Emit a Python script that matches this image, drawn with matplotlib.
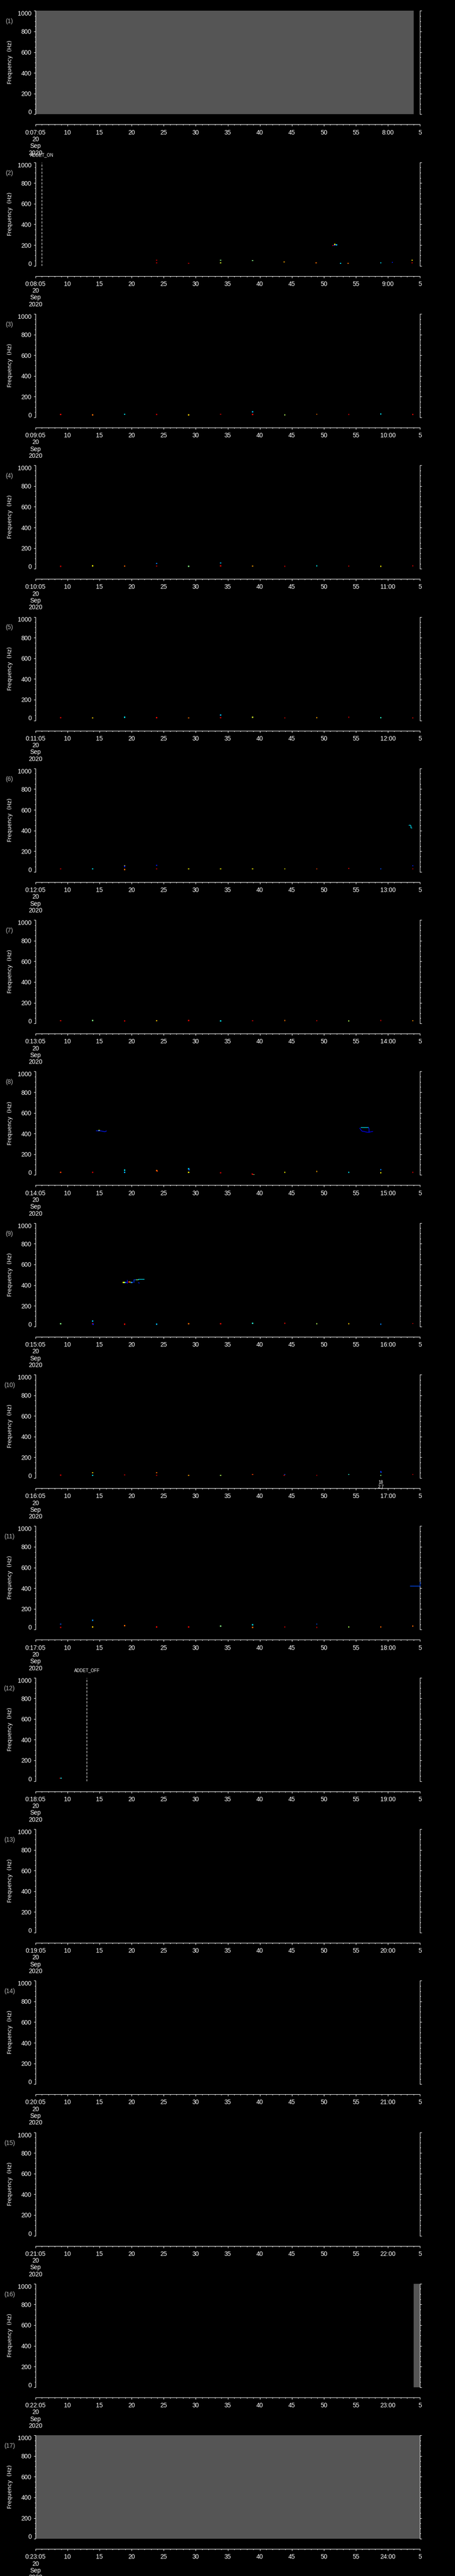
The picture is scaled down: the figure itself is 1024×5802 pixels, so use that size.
import matplotlib
matplotlib.use("Agg")
import matplotlib.pyplot as plt
from matplotlib.ticker import MultipleLocator, FixedLocator

plt.rcParams['font.family'] = ['Liberation Sans', 'DejaVu Sans']

W, H = 1024, 5802

# layout in pixels (from the top-left of the image)
PANEL_TOP0 = 24.3
PANEL_STEP = 341.3
PANEL_H = 233
X0, X1 = 80, 945
AXIS_GAP = 23

n_panels = 17
start_minutes = list(range(7, 7 + n_panels))   # 0:07:05 ... 0:23:05
date_lines = ["20", "Sep", "2020"]
freq_ticks = [0, 200, 400, 600, 800, 1000]
sec_ticks = list(range(0, 61, 5))

# grey = no data
nodata_panels = [1, 16, 17]
nodata_from = [0, 59, 0]
nodata_to = [59, 60, 60]

# instrument on/off markers
marker_panels = [2, 12]
marker_secs = [1.0, 8.0]
marker_names = ["ADDET_ON", "ADDET_OFF"]

# spectrogram pixels: (seconds after start, frequency Hz, level 0-1)
p02_dots = [(18.9, 54, .95), (18.9, 29, .95), (23.9, 24, .95), (28.9, 54, .5),
            (28.9, 29, .6), (33.9, 50, .5), (38.8, 37, .75), (43.8, 29, .8),
            (47.6, 24, .33), (48.8, 24, .8), (53.9, 29, .35), (55.7, 33, .15),
            (58.8, 54, .68), (58.8, 29, .95),
            (46.4, 195, .92), (46.6, 197, .15), (46.7, 207, .65), (46.9, 200, .2),
            (47.0, 203, .3)]
p03_dots = [(3.9, 27, .9), (8.9, 24, .8), (13.9, 29, .35), (18.9, 27, .95),
            (23.9, 24, .7), (28.9, 29, .95), (33.9, 52, .3), (33.9, 27, .9),
            (38.9, 24, .55), (43.9, 29, .8), (48.9, 27, .95), (53.9, 31, .35),
            (58.9, 27, .9)]
p04_dots = [(3.9, 24, .95), (8.9, 29, .65), (13.9, 27, .8), (18.9, 52, .25),
            (18.9, 27, .95), (23.9, 24, .5), (28.9, 56, .3), (28.9, 29, .9),
            (33.9, 27, .75), (38.9, 24, .95), (43.9, 29, .35), (48.9, 27, .9),
            (53.9, 24, .65), (58.9, 29, .95)]
p05_dots = [(3.9, 27, .95), (8.9, 24, .7), (13.9, 29, .35), (18.9, 27, .9),
            (23.9, 24, .8), (28.9, 52, .3), (28.9, 27, .95), (33.9, 29, .6),
            (38.9, 24, .9), (43.9, 27, .75), (48.9, 29, .95), (53.9, 27, .4),
            (58.9, 24, .9)]
p06_dots = [(3.9, 29, .95), (8.9, 29, .35), (13.9, 56, .65), (13.9, 52, .15),
            (13.9, 24, .8), (18.9, 63, .15), (18.9, 29, .95), (23.9, 29, .65),
            (28.9, 29, .65), (33.9, 29, .65), (38.9, 29, .65), (43.9, 29, .85),
            (48.9, 33, .9), (53.9, 29, .2), (58.9, 29, .95), (58.9, 60, .15)]
p07_dots = [(3.9, 27, .9), (8.9, 29, .5), (13.9, 24, .95), (18.9, 27, .7),
            (23.9, 29, .9), (28.9, 24, .35), (33.9, 27, .95), (38.9, 29, .8),
            (43.9, 27, .9), (48.9, 24, .55), (53.9, 29, .95), (58.9, 27, .75)]
p08_dots = [(3.9, 26, .85), (8.9, 26, .95), (13.9, 47, .35), (13.9, 26, .3),
            (18.9, 42, .8), (19.0, 39, .85), (23.9, 60, .35), (23.95, 52, .2),
            (23.9, 26, .65), (28.9, 22, .95), (33.8, 10, .95), (33.9, 6, .9),
            (34.1, 2, .5), (38.9, 26, .65), (43.9, 34, .75), (48.9, 26, .35),
            (53.9, 52, .25), (53.9, 22, .65), (58.9, 26, .95),
            (9.85, 430, .5), (10.0, 431, .65)]
p09_dots = [(3.9, 27, .5), (8.9, 53, .3), (8.9, 27, .95), (9.0, 23, .15),
            (13.9, 23, .9), (18.9, 23, .3), (23.9, 27, .8), (28.9, 27, .9),
            (33.9, 31, .4), (38.9, 31, .9), (43.9, 27, .55), (48.9, 27, .7),
            (53.9, 23, .25), (58.9, 29, .95),
            (13.7, 426, .65), (13.9, 425, .5), (14.1, 426, .15),
            (14.5, 431, .9), (14.7, 430, .7), (14.95, 427, .5), (15.1, 427, .2)]
p10_dots = [(3.9, 27, .95), (8.9, 52, .7), (8.9, 26, .35), (13.9, 30, .95),
            (18.9, 52, .8), (18.9, 26, .95), (23.9, 26, .75), (28.9, 26, .55),
            (33.9, 34, .85), (38.9, 34, .2), (38.8, 26, .95), (43.9, 26, .95),
            (48.9, 34, .4), (53.9, 62, .15), (53.95, 55, .2), (53.9, 26, .5),
            (58.9, 34, .95)]
p11_dots = [(3.9, 53, .2), (3.9, 20, .95), (8.9, 89, .25), (8.9, 24, .7),
            (13.9, 37, .8), (18.9, 24, .9), (23.9, 24, .9), (28.9, 33, .5),
            (33.9, 46, .35), (33.9, 20, .8), (38.9, 24, .95), (43.9, 53, .2),
            (43.9, 20, .95), (48.9, 24, .55), (53.9, 24, .8), (58.9, 33, .8)]
p12_dots = [(3.85, 28, .95), (4.0, 28, .35)]

dot_panels = [2, 3, 4, 5, 6, 7, 8, 9, 10, 11, 12]
dot_lists = [p02_dots, p03_dots, p04_dots, p05_dots, p06_dots, p07_dots,
             p08_dots, p09_dots, p10_dots, p11_dots, p12_dots]

# connected emission traces: panel, seconds, Hz, level
trace_panel = [6, 8, 8, 8, 8, 9, 9, 9, 9, 9, 9, 11]
trace_secs = [[58.3, 58.5, 58.6, 58.6, 58.75],
              [9.49, 10.2, 10.8, 11.07],
              [50.74, 51.96],
              [51.96, 52.06, 52.06],
              [50.6, 50.75, 50.97, 51.3, 51.55, 51.8, 52.06, 52.4, 52.64],
              [14.3, 14.3],
              [15.3, 15.3, 15.7],
              [15.7, 16.0],
              [16.0, 16.9],
              [16.05, 16.2],
              [14.9, 15.1],
              [58.5, 60.0, 60.0]]
trace_freq = [[450, 452, 445, 426, 424],
              [427, 426, 418, 425],
              [461, 461],
              [461, 445, 413],
              [452, 440, 423, 420, 416, 413, 413, 418, 420],
              [419, 450],
              [430, 452, 452],
              [455, 455],
              [460, 460],
              [424, 420],
              [427, 427],
              [420, 420, 459]]
trace_level = [.35, .15, .35, .15, .12, .15, .18, .5, .35, .15, .2, .2]

# small annotation under panel 10
note_panel = 10
note_sec = 53.9
note_text = ["18", "2.7"]


def fx(px):
    return px / W


def fy(px):
    return 1 - px / H


def sec_labels(minute):
    labels = []
    for s in sec_ticks:
        v = 5 + s
        if s == 0:
            labels.append("0:%02d:05\n" % minute + "\n".join(date_lines))
        elif v < 60:
            labels.append(str(v))
        elif v == 60:
            labels.append("%d:00" % (minute + 1))
        else:
            labels.append(str(v - 60))
    return labels


fig = plt.figure(figsize=(W / 100, H / 100), dpi=100, facecolor='black')
cmap = plt.get_cmap('jet')

for i in range(n_panels):
    k = i + 1
    top = PANEL_TOP0 + i * PANEL_STEP
    ax = fig.add_axes([fx(X0), fy(top + PANEL_H), fx(X1) - fx(X0), PANEL_H / H])
    ax.set_facecolor('black')
    ax.set_xlim(0, 60)
    ax.set_ylim(0, 1000)
    for s in ['top', 'bottom']:
        ax.spines[s].set_visible(False)
    for s in ['left', 'right']:
        ax.spines[s].set_color('white')
        ax.spines[s].set_linewidth(0.8)
    ax.tick_params(axis='x', which='both', bottom=False, labelbottom=False)
    ax.yaxis.set_major_locator(FixedLocator(freq_ticks))
    ax.yaxis.set_minor_locator(MultipleLocator(50))
    ax.tick_params(axis='y', which='both', direction='out', left=True, right=True,
                   color='white', width=0.8, labelcolor='white', labelsize=10, pad=3.6)
    ax.tick_params(axis='y', which='major', length=2.9)
    ax.tick_params(axis='y', which='minor', length=1.5)
    ax.set_yticklabels([str(v) for v in freq_ticks])
    ylabs = ax.get_yticklabels()
    ylabs[0].set_va('baseline')
    ylabs[-1].set_va('top')

    # no-data grey
    for p, a, b in zip(nodata_panels, nodata_from, nodata_to):
        if p == k:
            ax.axvspan(a, b, color='#555555', lw=0, zorder=0)

    # spectrogram pixels
    for p, dl in zip(dot_panels, dot_lists):
        if p == k:
            ts = [d[0] for d in dl]
            fs = [d[1] for d in dl]
            cs = [d[2] for d in dl]
            ax.scatter(ts, fs, c=cs, cmap=cmap, vmin=0, vmax=1, marker='s',
                       s=3.5, linewidths=0, zorder=3, clip_on=True)
    for p, ts, fs, lv in zip(trace_panel, trace_secs, trace_freq, trace_level):
        if p == k:
            ax.plot(ts, fs, color=cmap(lv), lw=1.0, zorder=3, clip_on=False)

    # ADDET markers
    for p, t, name in zip(marker_panels, marker_secs, marker_names):
        if p == k:
            ax.axvline(t, color='white', lw=0.72, ls=(0, (5, 3)), zorder=4)
            ax.annotate(name, xy=(t, 1000), xytext=(0, 12.2), textcoords='offset points',
                        ha='center', va='center', color='white', fontsize=7,
                        annotation_clip=False)

    if k == note_panel:
        for j, txt in enumerate(note_text):
            ax.annotate(txt, xy=(note_sec, 0), xytext=(0, -7.5 - 6.7 * j),
                        textcoords='offset points', ha='center', va='center',
                        color='white', fontsize=7, annotation_clip=False)

    # time axis below the panel
    tax = fig.add_axes([fx(X0), fy(top + PANEL_H + AXIS_GAP), fx(X1) - fx(X0), 1e-5])
    tax.set_facecolor('none')
    tax.patch.set_visible(False)
    for s in ['top', 'left', 'right']:
        tax.spines[s].set_visible(False)
    tax.spines['bottom'].set_color('white')
    tax.spines['bottom'].set_linewidth(0.8)
    tax.set_xlim(0, 60)
    tax.set_yticks([])
    tax.set_xticks(sec_ticks)
    tax.set_xticklabels(sec_labels(start_minutes[i]))
    tax.xaxis.set_minor_locator(MultipleLocator(1))
    tax.tick_params(axis='x', which='both', direction='out', color='white', width=0.8,
                    labelcolor='white', labelsize=10, pad=5.2)
    tax.tick_params(axis='x', which='major', length=2.9)
    tax.tick_params(axis='x', which='minor', length=1.5)
    for lbl in tax.get_xticklabels():
        lbl.set_linespacing(1.12)

    # panel number and y title
    fig.text(fx(21), fy(top + 24), "(%d)" % k, color='#b4b4b4', fontsize=10,
             ha='center', va='center')
    fig.text(fx(23), fy(top + 116), "Frequency  (Hz)", color='white', fontsize=9,
             family='DejaVu Sans', rotation=90, ha='center', va='center')

fig.savefig('out.png', dpi=100, facecolor='black')
